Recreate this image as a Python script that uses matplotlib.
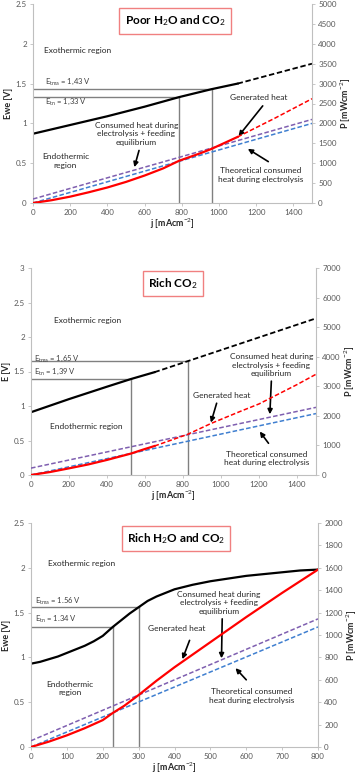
import matplotlib
matplotlib.use("Agg")
import matplotlib.pyplot as plt
import numpy as np

plt.rcParams['font.family'] = ['Lato', 'DejaVu Sans']
plt.rcParams['mathtext.fontset'] = 'custom'
plt.rcParams['mathtext.rm'] = 'Lato'
plt.rcParams['mathtext.it'] = 'Lato'
plt.rcParams['mathtext.bf'] = 'Lato:bold'

GREY = '#808080'
RED = '#ff0000'
BLUE = '#3f7fd0'
PURPLE = '#7f5fb0'

# ---------------- Panel 1: Poor H2O and CO2 ----------------
p1_title = r"Poor H$_2$O and CO$_2$"
p1_E_j_solid = [0, 200, 400, 600, 785, 960, 1100]
p1_E_solid = [0.87, 0.98, 1.09, 1.21, 1.33, 1.43, 1.50]
p1_E_j_dash = [1100, 1500]
p1_E_dash = [1.50, 1.75]
p1_red_j_solid = [0, 100, 200, 300, 400, 500, 600, 700, 785, 900, 960, 1030, 1100]
p1_red_solid = [0, 70, 160, 270, 390, 530, 690, 870, 1060, 1250, 1360, 1510, 1660]
p1_red_j_dash = [1100, 1300, 1500]
p1_red_dash = [1660, 2130, 2620]
p1_blue_j = [0, 1500]
p1_blue = [0, 2000]
p1_purple_j = [0, 1500]
p1_purple = [100, 2100]
p1_Etn, p1_jtn = 1.33, 785
p1_Etma, p1_jtma = 1.43, 960

# ---------------- Panel 2: Rich CO2 ----------------
p2_title = r"Rich CO$_2$"
p2_E_j_solid = [0, 200, 400, 525, 650]
p2_E_solid = [0.91, 1.10, 1.28, 1.39, 1.49]
p2_E_j_dash = [650, 825, 1500]
p2_E_dash = [1.49, 1.65, 2.27]
p2_red_j_solid = [0, 100, 200, 300, 400, 525, 600, 650]
p2_red_solid = [0, 100, 225, 355, 510, 723, 880, 980]
p2_red_j_dash = [650, 825, 950, 1100, 1200, 1300, 1400, 1500]
p2_red_dash = [980, 1377, 1750, 2147, 2403, 2730, 3057, 3407]
p2_blue_j = [0, 1500]
p2_blue = [0, 2077]
p2_purple_j = [0, 1500]
p2_purple = [233, 2287]
p2_Etn, p2_jtn = 1.39, 525
p2_Etma, p2_jtma = 1.65, 825

# ---------------- Panel 3: Rich H2O and CO2 ----------------
p3_title = r"Rich H$_2$O and CO$_2$"
p3_E_j = [0, 25, 50, 75, 100, 125, 150, 175, 200, 228, 250, 275, 300, 325,
          350, 375, 400, 450, 500, 550, 600, 650, 700, 750, 800]
p3_E = [0.93, 0.95, 0.98, 1.01, 1.05, 1.09, 1.13, 1.18, 1.24, 1.34, 1.41, 1.49,
        1.56, 1.63, 1.68, 1.72, 1.76, 1.81, 1.85, 1.88, 1.91, 1.93, 1.95, 1.97, 1.98]
p3_red_j = [0, 50, 100, 150, 200, 228, 260, 300, 350, 400, 500, 600, 700, 800]
p3_red = [0, 48, 104, 168, 240, 304, 368, 464, 592, 712, 936, 1160, 1376, 1584]
p3_blue_j = [0, 800]
p3_blue = [0, 1072]
p3_purple_j = [0, 800]
p3_purple = [56, 1144]
p3_Etn, p3_jtn = 1.34, 228
p3_Etma, p3_jtma = 1.56, 300

W, H = 357, 775
fig = plt.figure(figsize=(W / 100, H / 100), dpi=100)


def rect(l, r, t, b):
    return [l / W, 1 - b / H, (r - l) / W, (b - t) / H]


def style(ax, ax2):
    for a in (ax, ax2):
        a.spines['top'].set_visible(False)
        for s in ('left', 'right', 'bottom'):
            a.spines[s].set_color('#bfbfbf')
            a.spines[s].set_linewidth(0.8)
        a.tick_params(labelsize=5.8, colors='#595959', length=2.5, width=0.6, pad=2)
        a.tick_params(axis='both', color='#bfbfbf')
    ax2.spines['left'].set_visible(False)
    ax2.spines['bottom'].set_visible(False)
    ax.spines['right'].set_visible(False)


def panel(r, title, ylab, xmax, xstep, ymax, ystep, pmax, pstep,
          Ejs, Es, Ejd, Ed, rjs, rs, rjd, rd, bj, b, pj, p,
          Etn, jtn, Etma, jtma, texts, arrows, title_xy, tma_xy, tn_xy):
    ax = fig.add_axes(rect(*r))
    ax2 = ax.twinx()
    ax.set_xlim(0, xmax)
    ax.set_ylim(0, ymax)
    ax2.set_ylim(0, pmax)
    ax.set_xticks(np.arange(0, xmax + 1, xstep))
    ax.set_yticks(np.arange(0, ymax + 1e-9, ystep))
    ax.set_yticklabels([('%g' % v) for v in np.arange(0, ymax + 1e-9, ystep)])
    ax2.set_yticks(np.arange(0, pmax + 1, pstep))
    style(ax, ax2)
    ax.set_ylabel(ylab, fontsize=6.5, fontweight='bold', color='#262626', labelpad=2)
    ax2.set_ylabel(r"P [mWcm$^{-2}$]", fontsize=6.5, fontweight='bold', color='#262626', labelpad=1)
    ax.set_xlabel(r"j [mAcm$^{-2}$]", fontsize=6.5, fontweight='bold', color='#262626', labelpad=0)
    # grey reference lines
    ax.plot([0, jtn], [Etn, Etn], color=GREY, lw=1.0)
    ax.plot([0, jtma], [Etma, Etma], color=GREY, lw=1.0)
    ax.plot([jtn, jtn], [0, Etn], color=GREY, lw=1.0)
    ax.plot([jtma, jtma], [0, Etma], color=GREY, lw=1.0)
    # curves
    ax2.plot(pj, p, color=PURPLE, lw=1.1, ls=(0, (3, 1.5)))
    ax2.plot(bj, b, color=BLUE, lw=1.1, ls=(0, (3, 1.5)))
    if rjd:
        ax2.plot(rjd, rd, color=RED, lw=1.1, ls=(0, (3, 1.5)))
    ax2.plot(rjs, rs, color=RED, lw=1.6)
    if Ejd:
        ax.plot(Ejd, Ed, color='black', lw=1.3, ls=(0, (3, 1.5)))
    ax.plot(Ejs, Es, color='black', lw=1.6)
    ax.text(tma_xy[0], tma_xy[1], r"E$_{tma}$ = %s V" % tma_xy[2], fontsize=5.5,
            color='#404040', va='center', ha='left')
    ax.text(tn_xy[0], tn_xy[1], r"E$_{tn}$ = %s V" % tn_xy[2], fontsize=5.5,
            color='#404040', va='center', ha='left')
    for (x, y, s, ha) in texts:
        ax.text(x, y, s, fontsize=6.0, color='#262626', ha=ha, va='center',
                linespacing=1.25)
    for (x0, y0, x1, y1) in arrows:
        ax.annotate('', xy=(x1, y1), xytext=(x0, y0),
                    arrowprops=dict(arrowstyle='-|>', color='black', lw=1.2,
                                    mutation_scale=7, shrinkA=0, shrinkB=0))
    ax.text(title_xy[0], title_xy[1], title, transform=ax.transAxes,
            fontsize=8.5, fontweight='bold', ha='center', va='center',
            bbox=dict(boxstyle='square,pad=0.45', fc='white', ec='#f08080', lw=1.0))
    return ax


panel((33, 312, 4, 203), p1_title, "Ewe [V]", 1500, 200, 2.5, 0.5, 5000, 500,
      p1_E_j_solid, p1_E_solid, p1_E_j_dash, p1_E_dash,
      p1_red_j_solid, p1_red_solid, p1_red_j_dash, p1_red_dash,
      p1_blue_j, p1_blue, p1_purple_j, p1_purple,
      p1_Etn, p1_jtn, p1_Etma, p1_jtma,
      [(60, 1.92, "Exothermic region", 'left'),
       (175, 0.53, "Endothermic\nregion", 'center'),
       (555, 0.87, "Consumed heat during\nelectrolysis + feeding\nequilibrium", 'center'),
       (1215, 1.32, "Generated heat", 'center'),
       (1225, 0.35, "Theoretical consumed\nheat during electrolysis", 'center')],
      [(570, 0.66, 545, 0.45), (1235, 1.22, 1105, 0.84), (1265, 0.52, 1155, 0.68)],
      (0.509, 0.915), (65, 1.52, "1,43"), (65, 1.27, "1,33"))

panel((31, 316, 268, 475), p2_title, "E [V]", 1500, 200, 3, 0.5, 7000, 1000,
      p2_E_j_solid, p2_E_solid, p2_E_j_dash, p2_E_dash,
      p2_red_j_solid, p2_red_solid, p2_red_j_dash, p2_red_dash,
      p2_blue_j, p2_blue, p2_purple_j, p2_purple,
      p2_Etn, p2_jtn, p2_Etma, p2_jtma,
      [(120, 2.24, "Exothermic region", 'left'),
       (100, 0.70, "Endothermic region", 'left'),
       (1265, 1.59, "Consumed heat during\nelectrolysis + feeding\nequilibrium", 'center'),
       (1003, 1.15, "Generated heat", 'center'),
       (1240, 0.24, "Theoretical consumed\nheat during electrolysis", 'center')],
      [(1265, 1.36, 1257, 0.88), (977, 1.04, 947, 0.76), (1250, 0.46, 1204, 0.63)],
      (0.498, 0.925), (14, 1.69, "1,65"), (14, 1.49, "1,39"))

panel((31, 318, 523, 747), p3_title, "Ewe [V]", 800, 100, 2.5, 0.5, 2000, 200,
      p3_E_j, p3_E, None, None,
      p3_red_j, p3_red, None, None,
      p3_blue_j, p3_blue, p3_purple_j, p3_purple,
      p3_Etn, p3_jtn, p3_Etma, p3_jtma,
      [(48, 2.05, "Exothermic region", 'left'),
       (109, 0.655, "Endothermic\nregion", 'center'),
       (524, 1.61, "Consumed heat during\nelectrolysis + feeding\nequilibrium", 'center'),
       (405, 1.32, "Generated heat", 'center'),
       (614, 0.57, "Theoretical consumed\nheat during electrolysis", 'center')],
      [(533, 1.43, 531, 0.99), (442, 1.19, 422, 0.98), (600, 0.75, 570, 0.88)],
      (0.505, 0.93), (12, 1.63, "1.56"), (12, 1.42, "1.34"))

fig.savefig("out.png", dpi=100)
